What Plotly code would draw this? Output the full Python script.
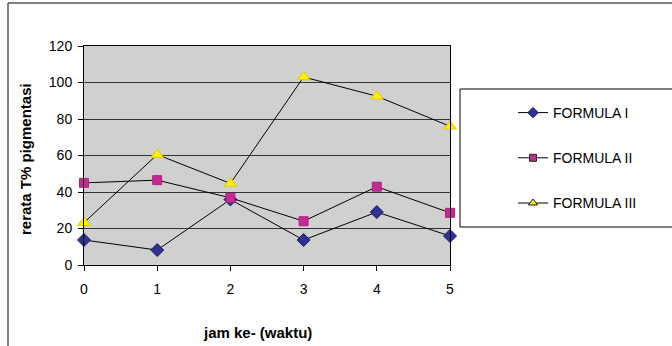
import plotly.graph_objects as go

jam = [0, 1, 2, 3, 4, 5]
formula_1 = [13.7, 8.2, 35.9, 13.7, 29.0, 15.9]
formula_2 = [45.0, 46.5, 36.8, 24.0, 42.9, 28.6]
formula_3 = [23.2, 60.5, 44.7, 103.0, 92.5, 76.0]
names = ["FORMULA I", "FORMULA II", "FORMULA III"]
y_ticks = [0, 20, 40, 60, 80, 100, 120]

L, R, T, B = 84, 450, 46, 265
W, H = 672, 346

def px(x):
    return (x - L) / (R - L)

def py(y):
    return (B - y) / (B - T)

fig = go.Figure()
styles = [
    dict(symbol="diamond", color="#2E3192", line=dict(color="#1A1A66", width=1)),
    dict(symbol="square", color="#C42A8F", line=dict(color="#B02080", width=1)),
    dict(symbol="triangle-up", color="#FFEF00", line=dict(color="#E0C800", width=1)),
]
sizes = [10, 9, 11]
legend_sizes = [8, 7, 8]
legend_edges = ["#1A1A66", "#222222", "#222222"]
for i, (vals, nm) in enumerate(zip([formula_1, formula_2, formula_3], names)):
    fig.add_trace(go.Scatter(
        x=jam, y=vals, name=nm, mode="lines+markers",
        line=dict(color="black", width=1),
        marker=dict(size=sizes[i], **styles[i]), showlegend=False, cliponaxis=False,
    ))
    fig.add_trace(go.Scatter(
        x=[None], y=[None], name=nm, mode="lines+markers",
        line=dict(color="black", width=1),
        marker=dict(size=legend_sizes[i], symbol=styles[i]["symbol"], color=styles[i]["color"],
                    line=dict(color=legend_edges[i], width=1)),
        legendgroup=nm, showlegend=True,
    ))

fig.add_shape(type="rect", xref="paper", yref="paper",
              x0=px(460), x1=px(690), y0=py(227), y1=py(89),
              line=dict(color="black", width=1), fillcolor="rgba(0,0,0,0)")
fig.add_shape(type="rect", xref="paper", yref="paper",
              x0=px(8), x1=px(690), y0=py(360), y1=py(3),
              line=dict(color="black", width=1), fillcolor="rgba(0,0,0,0)")

fig.add_annotation(text="<b>jam ke- (waktu)</b>", xref="paper", yref="paper",
                   x=px(257), y=py(332), xanchor="center", yanchor="middle",
                   showarrow=False, font=dict(size=15))
fig.add_annotation(text="<b>rerata T% pigmentasi</b>", xref="paper", yref="paper",
                   x=px(25), y=py(159), xanchor="center", yanchor="middle",
                   textangle=-90, showarrow=False, font=dict(size=15))

fig.update_layout(
    width=W, height=H,
    margin=dict(l=L, r=W - R, t=T, b=H - B),
    paper_bgcolor="white", plot_bgcolor="#D0D0D0",
    font=dict(family="Liberation Sans, Arial, sans-serif", size=14, color="black"),
    showlegend=True,
    legend=dict(x=px(513), y=py(97), xanchor="left", yanchor="top",
                bgcolor="rgba(0,0,0,0)", borderwidth=0, tracegroupgap=24,
                font=dict(size=14)),
    xaxis=dict(range=[0, 5], tickvals=jam, showgrid=False, showline=True,
               linecolor="black", linewidth=1, mirror=True, ticks="outside",
               ticklen=5, tickcolor="black", zeroline=False, ticklabelstandoff=6),
    yaxis=dict(range=[0, 120], tickvals=y_ticks, showgrid=True, gridcolor="#333333",
               gridwidth=1, showline=True, linecolor="black", linewidth=1, mirror=True,
               ticks="outside", ticklen=5, tickcolor="black", zeroline=False,
               ticklabelstandoff=3),
)
fig.write_html("out.html", config={"displayModeBar": False},
               post_script="document.body.style.margin='0';")
